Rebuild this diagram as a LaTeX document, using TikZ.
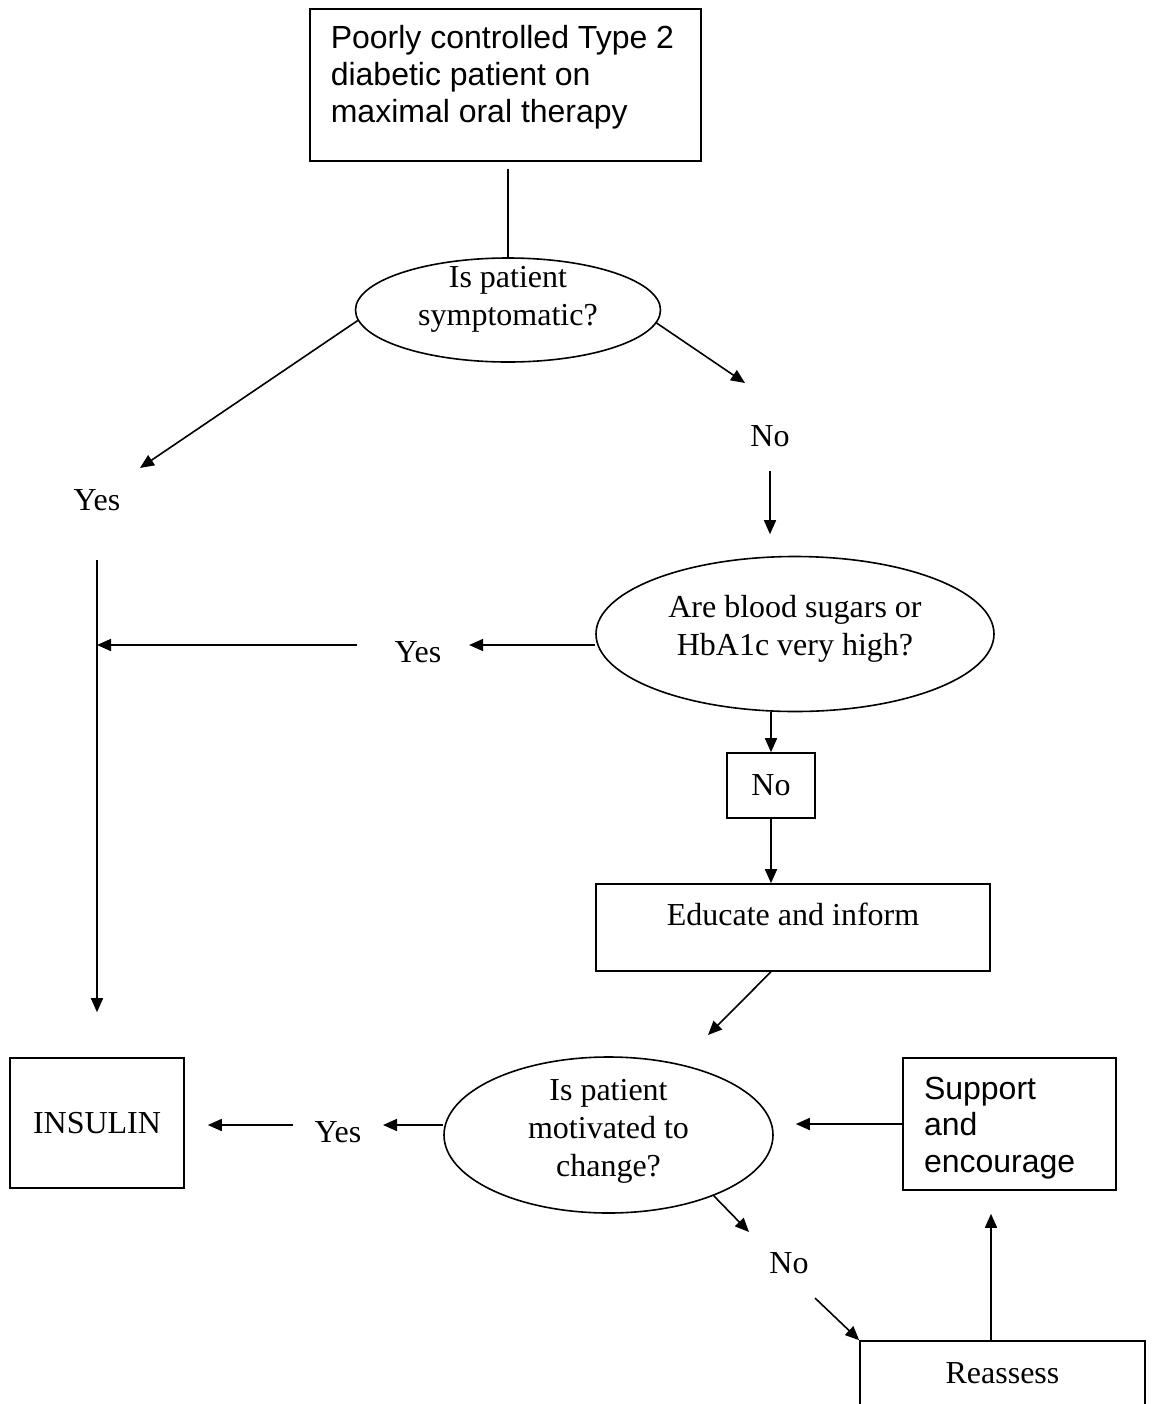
\documentclass[tikz,border=0pt]{standalone}
\usepackage{fontspec}
\setmainfont{Liberation Serif}
\setsansfont{Liberation Sans}
\usetikzlibrary{arrows.meta,shapes.geometric}

\begin{document}
\begin{tikzpicture}[x=0.5pt,y=-0.5pt,line width=0.8pt,
    every node/.style={font=\fontsize{16}{19}\selectfont},
    box/.style={draw, rectangle, inner sep=0pt},
    question/.style={draw, ellipse, inner sep=0pt, text height=0pt, text depth=0pt},
    answer/.style={inner sep=2pt},
    arr/.style={-{Triangle[length=7pt,width=6pt]}}]
    \useasboundingbox (0,0) rectangle (1153,1404);
    \clip (0,0) rectangle (1153,1404);

    \node[box, anchor=north west, inner xsep=10.5pt, font=\sffamily\fontsize{16}{18.3}\selectfont] (patient) at (309,8)
        {\parbox[c][76pt][t]{174.5pt}{\vspace*{8.5pt}Poorly controlled Type 2\\diabetic patient on\\maximal oral therapy}};
    \node[question, minimum width=152.5pt, minimum height=52pt, text depth=2pt] (symptoms) at (508,310)
        {\begin{tabular}{@{}c@{}}Is patient\\symptomatic?\end{tabular}};
    \node[question, minimum width=199pt, minimum height=77.5pt, text height=4pt] (sugars) at (795,634)
        {\begin{tabular}{@{}c@{}}Are blood sugars or\\HbA1c very high?\end{tabular}};
    \node[question, minimum width=164.5pt, minimum height=78pt, text height=5pt] (motivated) at (608.5,1135)
        {\begin{tabular}{@{}c@{}}Is patient\\motivated to\\change?\end{tabular}};

    \node[box, minimum width=87pt, minimum height=65pt] (insulin) at (97,1123) {INSULIN};
    \node[box, minimum width=44pt, minimum height=32.5pt] (nobox) at (771,785.5) {No};
    \node[box, minimum width=197pt, minimum height=43.5pt, text height=0pt, text depth=2.3pt] (educate) at (793,927.5) {Educate and inform};
    \node[box, minimum height=66pt, text width=85.5pt, inner xsep=10.5pt, align=left, text height=13pt, text depth=0pt, font=\sffamily\fontsize{16}{18.3}\selectfont] (support) at (1009.5,1124)
        {\begin{tabular}{@{}l@{}}Support\\and\\encourage\end{tabular}};
    \node[box, minimum width=142.5pt, minimum height=32pt] (reassess) at (1002.5,1373) {Reassess};

    \node[answer] (yes1) at (97,500) {Yes};
    \node[answer] (no1) at (770,436) {No};
    \node[answer] (yes2) at (418,652) {Yes};
    \node[answer] (yes3) at (338,1132) {Yes};
    \node[answer] (no3) at (789,1263) {No};

    \coordinate (symyes) at (140,468);
    \coordinate (symno) at (745,383);
    \coordinate (yesjoin) at (97,645);
    \coordinate (edumotiv) at (708,1035);
    \coordinate (motivyes) at (383,1125);
    \coordinate (motivno) at (749,1232);
    \coordinate (noreassess) at (815,1298);

    \draw[shorten <=3.5pt] (patient.south -| symptoms.north) -- (symptoms.north);
    \draw[arr] (symptoms.184) -- (symyes);
    \draw[arr] (symptoms.355) -- (symno);
    \draw[arr, shorten <=9.7pt, shorten >=10.75pt] (no1.south) -- (no1.south |- sugars.north);
    \draw[arr, shorten <=22.5pt, shorten >=22.5pt] (yes1) -- (insulin);
    \draw[arr, shorten >=11.5pt] ([yshift=-5.5pt]sugars.west) -- (yes2.east |- yesjoin);
    \draw[arr, shorten <=16.5pt] (yes2.west |- yesjoin) -- (yesjoin);
    \draw[arr] (nobox.north |- sugars.south) -- (nobox.north);
    \draw[arr] (nobox.south) -- (nobox.south |- educate.north);
    \draw[arr] (nobox.south |- educate.south) -- (edumotiv);
    \draw[arr] ([yshift=5pt]motivated.west) -- (motivyes);
    \draw[arr, shorten <=8.5pt, shorten >=11.5pt] (yes3.west |- motivyes) -- (insulin.east |- motivyes);
    \draw[arr, shorten >=11pt] (support.west) -- (support.west -| motivated.east);
    \draw[arr] (motivated.330) -- (motivno);
    \draw[arr] (noreassess) -- (reassess.north west);
    \draw[arr, shorten >=11.5pt] ([xshift=-5.75pt]reassess.north) -- ([xshift=-5.75pt]reassess.north |- support.south);
\end{tikzpicture}
\end{document}
